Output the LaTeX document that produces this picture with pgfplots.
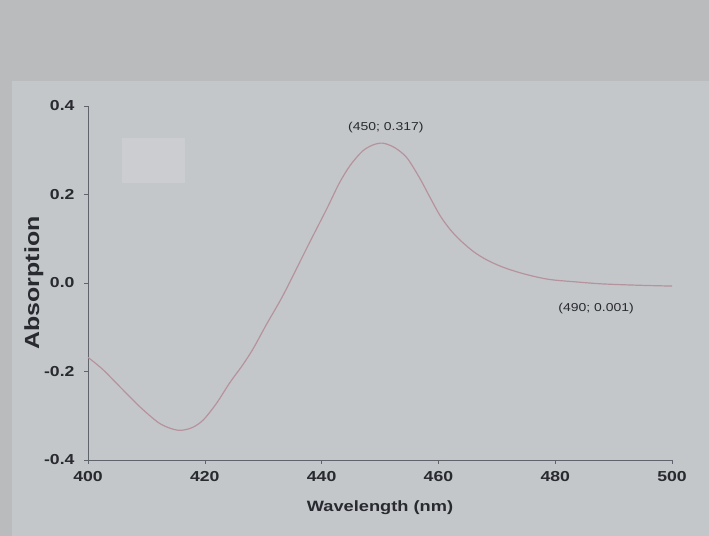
\documentclass[border=0pt]{standalone}
\usepackage{pgfplots}
\pgfplotsset{compat=1.18}
\usepackage{fontspec}
\setmainfont{Liberation Sans}[FakeStretch=1.22]
\definecolor{bgtop}{RGB}{186,187,189}
\definecolor{bgmain}{RGB}{196,199,202}
\definecolor{curve}{RGB}{182,146,156}
\definecolor{txt}{RGB}{40,42,48}
\definecolor{axcol}{RGB}{95,100,108}
\begin{document}
\begin{tikzpicture}[x=1bp,y=1bp]
\fill[bgtop] (0,0) rectangle (709,536);
\fill[bgmain] (12,0) rectangle (709,455);
\begin{axis}[
  at={(88bp,76bp)}, anchor=south west,
  scale only axis, width=584bp, height=354bp,
  xmin=400, xmax=500, ymin=-0.4, ymax=0.4,
  axis lines=left, axis line style={-, axcol, line width=0.8pt},
  xtick={400,420,...,500}, ytick={-0.4,-0.2,0,0.2,0.4},
  tick align=outside, major tick length=4bp,
  tick style={axcol, line width=0.6pt},
  yticklabel style={xshift=-6bp, /pgf/number format/.cd, fixed, fixed zerofill, precision=1},
  /pgf/number format/assume math mode=true,
  ticklabel style={font=\bfseries\fontsize{14.5}{16}\selectfont, text=txt},
  xticklabel style={yshift=-4bp},
  xlabel={Wavelength (nm)}, ylabel={Absorption},
  xlabel style={font=\bfseries\fontsize{15}{17}\selectfont, text=txt, yshift=-12bp},
  ylabel style={font=\bfseries\fontsize{20.5}{22}\selectfont, text=txt, yshift=-6bp},
  clip=false,
]
\fill[white, opacity=0.12] (axis cs:405.8,0.226) rectangle (axis cs:416.6,0.328);
\addplot[curve, line width=1.2pt, smooth] coordinates {
(400,-0.168) (402.5,-0.195) (405.5,-0.235) (408.9,-0.280) (412,-0.315) (414,-0.328)
(415.8,-0.333) (417.8,-0.327) (419.7,-0.310) (422,-0.272) (424.3,-0.225)
(426.5,-0.185) (428.3,-0.148) (430.5,-0.095) (432.9,-0.040) (434.6,0.003)
(437.5,0.080) (440.9,0.168) (443,0.225) (444.9,0.266) (447,0.298) (448.8,0.312)
(450.5,0.316) (452.5,0.306) (454.6,0.283) (456.8,0.237) (458.5,0.195)
(460.3,0.152) (462,0.121) (463.7,0.097) (466,0.071) (468.3,0.052) (471,0.036)
(474,0.023) (477,0.013) (479.6,0.007) (484,0.002) (488,-0.002) (494,-0.005) (500,-0.007)
};
\node[font=\fontsize{11.5}{13}\selectfont, text=txt] at (axis cs:451,0.352) {(450; 0.317)};
\node[font=\fontsize{11.5}{13}\selectfont, text=txt] at (axis cs:487,-0.057) {(490; 0.001)};
\end{axis}
\end{tikzpicture}
\end{document}
